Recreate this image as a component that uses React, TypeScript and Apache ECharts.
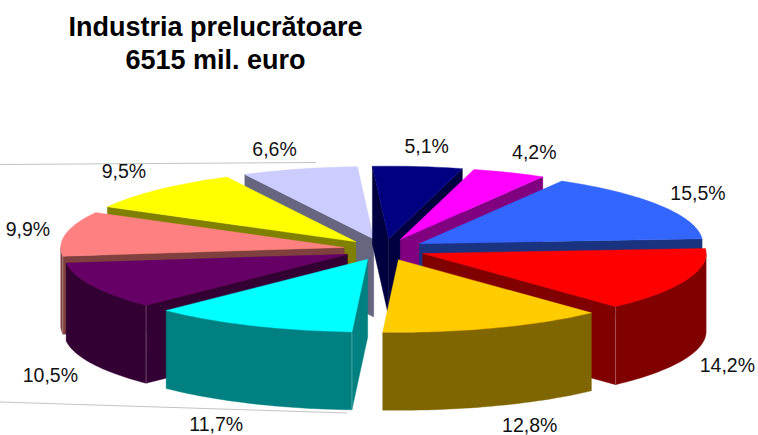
import React, { useEffect, useRef } from "react";
import * as echarts from "echarts";

const titleLines = ["Industria prelucrătoare", "6515 mil. euro"];
const shares = [5.1, 4.2, 15.5, 14.2, 12.8, 11.7, 10.5, 9.9, 9.5, 6.6];
const topColors = ["#000080", "#FF00FF", "#3366FF", "#FF0000", "#FFCC00", "#00FFFF", "#660066", "#FF8080", "#FFFF00", "#CCCCFF"];
const sideColors = ["#000040", "#800080", "#1A3380", "#800000", "#806600", "#008080", "#330033", "#804040", "#808000", "#666680"];
// painter's order (back to front) for each slice
const paintRank = [1, 2, 3, 7, 8, 9, 6, 5, 4, 0];
// label offset from the middle of each slice's rim
const labelNudgeX = [9, 25, 38, 41, 35, -35, -42, -38, -34.5, -25];
const labelNudgeY = [-20.5, -20.5, -12.5, 84.5, 97, 98.5, 89.5, -4.5, -18.5, -20.5];

const CX = 384.5, CY = 249.5, RX = 283.5, RY = 72.6, DEPTH = 78, EX = 41, EY = 10.8, START = -3.3;
const rad = (d: number) => (d * Math.PI) / 180;

function renderSlice(params: any, api: any) {
  const i = params.dataIndex;
  const share = api.value(0);
  const before = api.value(1);
  const a0 = START + (before / 100) * 360;
  const a1 = a0 + (share / 100) * 360;
  const m = (a0 + a1) / 2;
  const ax = CX + EX * Math.sin(rad(m));
  const ay = CY - EY * Math.cos(rad(m));
  const rim = (a: number, dy = 0): number[] => [ax + RX * Math.sin(rad(a)), ay - RY * Math.cos(rad(a)) + dy];
  const arc = (from: number, to: number, dy = 0) => {
    const n = Math.max(2, Math.ceil(Math.abs(to - from) / 1.5));
    const pts: number[][] = [];
    for (let k = 0; k <= n; k++) pts.push(rim(from + ((to - from) * k) / n, dy));
    return pts;
  };
  const z2 = paintRank[i] * 10;
  const top = topColors[i];
  const side = sideColors[i];
  const children: any[] = [];
  const face = (points: number[][], fill: string, z: number) =>
    children.push({ type: "polygon", z2: z2 + z, shape: { points }, style: { fill, stroke: fill, lineWidth: 0.4 } });
  const seam = (x: number, y: number, z: number) =>
    children.push({
      type: "line",
      z2: z2 + z,
      shape: { x1: x, y1: y, x2: x, y2: y + DEPTH },
      style: { stroke: "rgba(255,255,255,0.35)", lineWidth: 0.8 },
    });
  if (Math.sin(rad(a0)) < 0) {
    const p = rim(a0);
    face([[ax, ay], p, [p[0], p[1] + DEPTH], [ax, ay + DEPTH]], side, 1);
  }
  if (Math.sin(rad(a1)) > 0) {
    const p = rim(a1);
    face([[ax, ay], p, [p[0], p[1] + DEPTH], [ax, ay + DEPTH]], side, 1);
  }
  const lo = Math.max(a0, 90);
  const hi = Math.min(a1, 270);
  if (hi > lo) {
    face([...arc(lo, hi), ...arc(hi, lo, DEPTH)], side, 2);
    if (a0 >= 90 && a0 < 270 && Math.sin(rad(a0)) < 0) seam(rim(a0)[0], rim(a0)[1], 3);
    if (a1 > 90 && a1 <= 270 && Math.sin(rad(a1)) > 0) seam(rim(a1)[0], rim(a1)[1], 3);
  }
  face([[ax, ay], ...arc(a0, a1)], top, 4);
  const mid = rim(m);
  children.push({
    type: "text",
    z2: 200,
    style: {
      x: mid[0] + labelNudgeX[i],
      y: mid[1] + labelNudgeY[i],
      text: share.toFixed(1).replace(".", ",") + "%",
      fill: "#111",
      font: '19.5px "Liberation Sans"',
      textAlign: "center",
      textVerticalAlign: "middle",
    },
  });
  return { type: "group", children };
}

export default function App() {
  const ref = useRef<HTMLDivElement>(null);
  useEffect(() => {
    document.body.style.margin = "0";
    const chart = echarts.init(ref.current!, null, { renderer: "svg" });
    let cum = 0;
    const rows = shares.map((s) => {
      const row = [s, cum];
      cum += s;
      return row;
    });
    chart.setOption({
      animation: false,
      backgroundColor: "#ffffff",
      title: {
        text: titleLines.join("\n"),
        left: 210.5,
        top: 5,
        textAlign: "center",
        textStyle: { fontFamily: "Liberation Sans", fontWeight: "bold", fontSize: 27, lineHeight: 33, color: "#000" },
      },
      graphic: [
        { type: "line", z: 0, shape: { x1: 0, y1: 164.5, x2: 316, y2: 162.5 }, style: { stroke: "#c4c4c4", lineWidth: 1 } },
        { type: "line", z: 0, shape: { x1: 0, y1: 402, x2: 347, y2: 413 }, style: { stroke: "#c4c4c4", lineWidth: 1 } },
      ],
      series: [
        {
          type: "custom",
          coordinateSystem: "none",
          z: 5,
          renderItem: renderSlice,
          data: rows,
          encode: { value: 0 },
        },
      ],
    });
    return () => chart.dispose();
  }, []);
  return <div ref={ref} style={{ position: "absolute", left: 0, top: 0, width: 758, height: 435 }} />;
}
